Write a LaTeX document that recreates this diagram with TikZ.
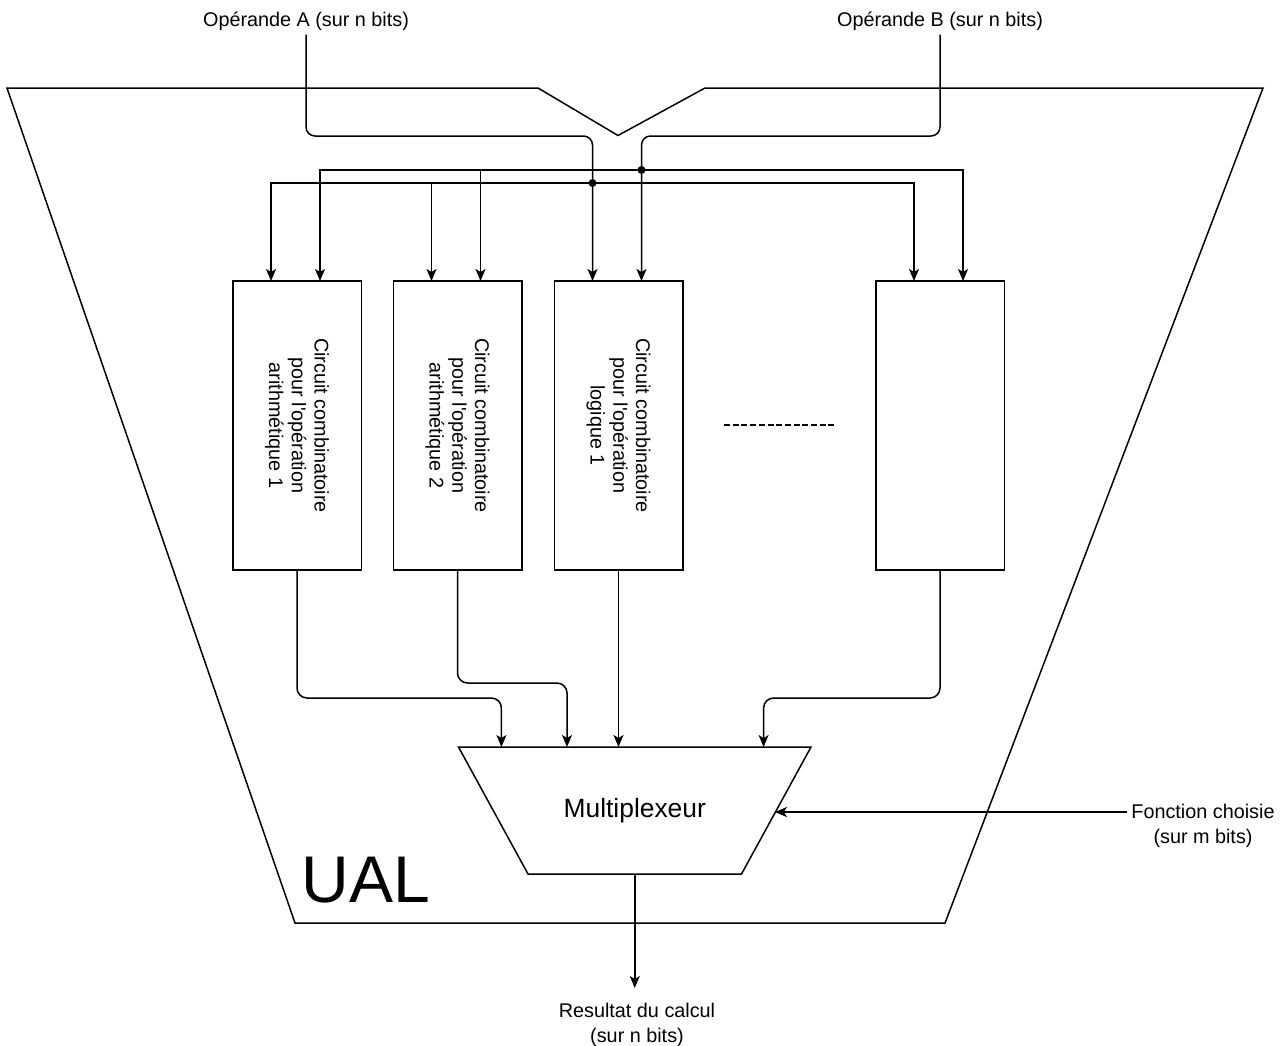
\documentclass[tikz,border=0pt]{standalone}
\usepackage{fontspec}
\setmainfont{Liberation Sans}
\usetikzlibrary{arrows.meta,calc}
\begin{document}
\begin{tikzpicture}[x=1pt,y=-1pt,
  wire/.style={draw=black, line width=1.5pt},
  arr/.style={wire, -{Stealth[length=12pt,width=10pt,inset=3pt]}},
  blk/.style={draw=black, line width=1.5pt, minimum width=128.5pt, minimum height=289pt, inner sep=0pt, outer sep=0pt},
  blktext/.style={rotate=-90, align=center, inner sep=0pt, font=\fontsize{19.8}{22.8}\selectfont},
  lbl/.style={align=center, inner sep=4pt, font=\fontsize{19.8}{25}\selectfont},
  jdot/.style={fill=black}
]
\useasboundingbox (0,0) rectangle (1284,1045);

% outer UAL shape
\draw[wire, line join=miter] (7,88) -- (538,88) -- (618,135.5) -- (705,88) -- (1263,88) -- (945,923) -- (295,923) -- cycle;
\node[font=\fontsize{66}{70}\selectfont, anchor=base, inner sep=0pt] (ual) at (366,902) {UAL};

% labels
\node[lbl] (opA) at (306,21) {Opérande A (sur n bits)};
\node[lbl] (opB) at (940,21) {Opérande B (sur n bits)};
\node[lbl] (fc) at (1203,826) {Fonction choisie\\(sur m bits)};
\node[lbl] (res) at (637,1025) {Resultat du calcul\\(sur n bits)};

% blocks
\node[blk] (b1) at (297,425.5) {};
\node[blk] (b2) at (457.5,425.5) {};
\node[blk] (b3) at (618.5,425.5) {};
\node[blk] (b4) at (940,425.5) {};
\node[blktext] (t1) at (b1.center) {Circuit combinatoire\\pour l\textquotesingle opération\\arithmétique 1};
\node[blktext] (t2) at (b2.center) {Circuit combinatoire\\pour l\textquotesingle opération\\arithmétique 2};
\node[blktext] (t3) at (b3.center) {Circuit combinatoire\\pour l\textquotesingle opération\\logique 1};

% block inputs
\foreach \b in {b1,b2,b3,b4}{
  \coordinate (\b a) at ([xshift=-26pt]\b.north);
  \coordinate (\b b) at ([xshift=23pt]\b.north);
}
\coordinate (jA) at (592.5,183);
\coordinate (jB) at (641.5,170);

% operand wires
\draw[arr, rounded corners=9pt] (opA.south) -- (306,136) -- (592.5,136) -- (b3a);
\draw[arr, rounded corners=9pt] (opB.south) -- (940,136) -- (641.5,136) -- (b3b);

% buses
\draw[arr] (jA) -| (b1a);
\draw[arr] (jA) -| (b2a);
\draw[arr] (jA) -| (b4a);
\draw[arr] (jB) -| (b1b);
\draw[arr] (jB) -| (b2b);
\draw[arr] (jB) -| (b4b);
\fill[jdot] (jA) circle (4pt);
\fill[jdot] (jB) circle (4pt);

% dashed ellipsis
\coordinate (d1) at (724,425);
\coordinate (d2) at (836,425);
\draw[wire, dash pattern=on 6pt off 2.7pt] (d1) -- (d2);

% multiplexer
\coordinate (mtl) at (458.5,747);
\coordinate (mtr) at (811,747);
\coordinate (mbr) at (741.5,874);
\coordinate (mbl) at (528,874);
\draw[wire, line join=miter] (mtl) -- (mtr) -- (mbr) -- (mbl) -- cycle;
\node[font=\fontsize{26.4}{30}\selectfont, inner sep=0pt] (mux) at (634.75,811) {Multiplexeur};
\coordinate (m1) at (501.4,747);
\coordinate (m2) at (567,747);
\coordinate (m3) at (618.5,747);
\coordinate (m4) at (763.6,747);
\coordinate (mout) at (634.75,874);
\coordinate (msel) at (774.9,812);
\coordinate (rtip) at (634.75,988);

% block outputs
\draw[arr, rounded corners=10pt] (b1.south) -- (297,698) -- (501.4,698) -- (m1);
\draw[arr, rounded corners=10pt] (b2.south) -- (457.5,683) -- (567,683) -- (m2);
\draw[arr] (b3.south) -- (m3);
\draw[arr, rounded corners=10pt] (b4.south) -- (940,698) -- (763.6,698) -- (m4);

% select and result
\draw[arr] (fc.west |- msel) -- (msel);
\draw[arr] (mout) -- (rtip);
\end{tikzpicture}
\end{document}
